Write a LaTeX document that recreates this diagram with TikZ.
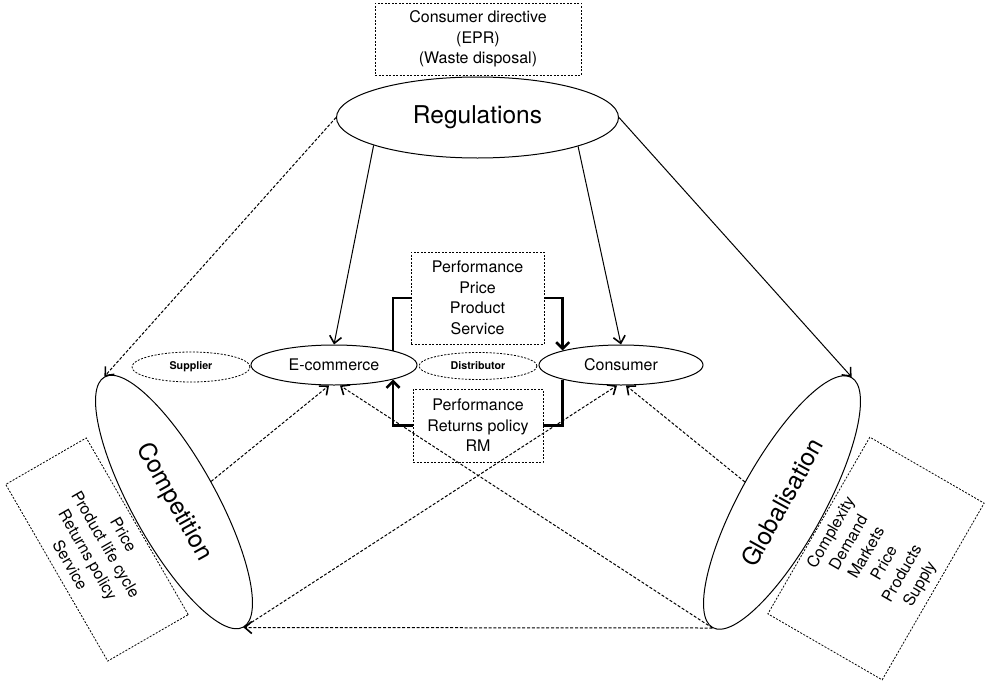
\documentclass[tikz,border=0pt]{standalone}
\usepackage{fontspec}
\setmainfont{TeX Gyre Heros}
\usetikzlibrary{shapes.geometric,arrows.meta}
\begin{document}
\begin{tikzpicture}[x=1pt,y=-1pt,
  bigf/.style={font=\fontsize{24.5}{28}\selectfont},
  midf/.style={font=\fontsize{16}{20.5}\selectfont},
  smallf/.style={font=\fontsize{10.7}{12}\selectfont\bfseries},
  ell/.style={ellipse, draw, line width=1pt, inner sep=0pt},
  dell/.style={ellipse, draw, dash pattern=on 2pt off 1.5pt, line width=0.8pt, inner sep=0pt},
  dbox/.style={draw, dash pattern=on 2pt off 1.5pt, line width=0.8pt, inner sep=0pt, align=center, midf},
  conn/.style={line width=1pt, -{Straight Barb[length=7pt,width=12pt,line width=1.6pt]}},
  dconn/.style={conn, dash pattern=on 3pt off 1.8pt},
  thickln/.style={line width=2.6pt},
  tarrow/.style={-{Straight Barb[length=6.5pt,width=13pt]}}
]
\useasboundingbox (0,0) rectangle (985,680);

% main ellipses
\node[ell, bigf, minimum width=282, minimum height=81] (reg) at (477.5,117.5) {Regulations};
\node[ell, bigf, minimum width=286, minimum height=84, rotate=-61] (comp) at (174,502) {Competition};
\node[ell, bigf, minimum width=286, minimum height=84, rotate=61] (glob) at (782,502.5) {Globalisation};
\node[ell, midf, minimum width=166, minimum height=40] (ecom) at (334,365) {E-commerce};
\node[ell, midf, minimum width=164, minimum height=40] (cons) at (621,365) {Consumer};
\node[dell, smallf, minimum width=118, minimum height=30] (sup) at (191,367) {Supplier};
\node[dell, smallf, minimum width=118, minimum height=27] (dist) at (478,366) {Distributor};

% boxes
\node[dbox, minimum width=206, minimum height=72] (epr) at (478,39) {Consumer directive\\(EPR)\\(Waste disposal)};
\node[dbox, minimum width=133, minimum height=92] (pbox) at (477.5,298) {Performance\\Price\\Product\\Service};
\node[dbox, minimum width=130, minimum height=73] (rbox) at (478,425.5) {Performance\\Returns policy\\RM};
\node[dbox, minimum width=204, minimum height=93, rotate=-60] (cbox) at (97,549.5) {Price\\Product life cycle\\Returns policy\\Service};
\node[dbox, minimum width=204, minimum height=132, rotate=60] (gbox) at (876,558.5) {Complexity\\Demand\\Markets\\Price\\Products\\Supply};

% connectors from Regulations
\draw[conn] (reg.195) -- (ecom.north);
\draw[conn] (reg.-16) -- (cons.north);
\draw[conn] (reg.east) -- (glob.east);
\draw[dconn] (reg.west) -- (comp.west);

% lower dashed connectors
\draw[dconn] (comp.north) -- ([xshift=-5pt]ecom.south);
\draw[dconn] (glob.west) -- ([xshift=6pt]ecom.south);
\draw[dconn] (comp.east) -- ([xshift=-4pt]cons.south);
\draw[dconn] (glob.north) -- ([xshift=5pt]cons.south);
\draw[dconn] (glob.west) -- (comp.east);

% thick brackets
\draw[thickln] (ecom.north east) |- (pbox.west);
\draw[thickln, tarrow] (pbox.east) -| (cons.north west);
\draw[thickln] (cons.south west) |- (rbox.east);
\draw[thickln, tarrow] (rbox.west) -| (ecom.south east);
\end{tikzpicture}
\end{document}
